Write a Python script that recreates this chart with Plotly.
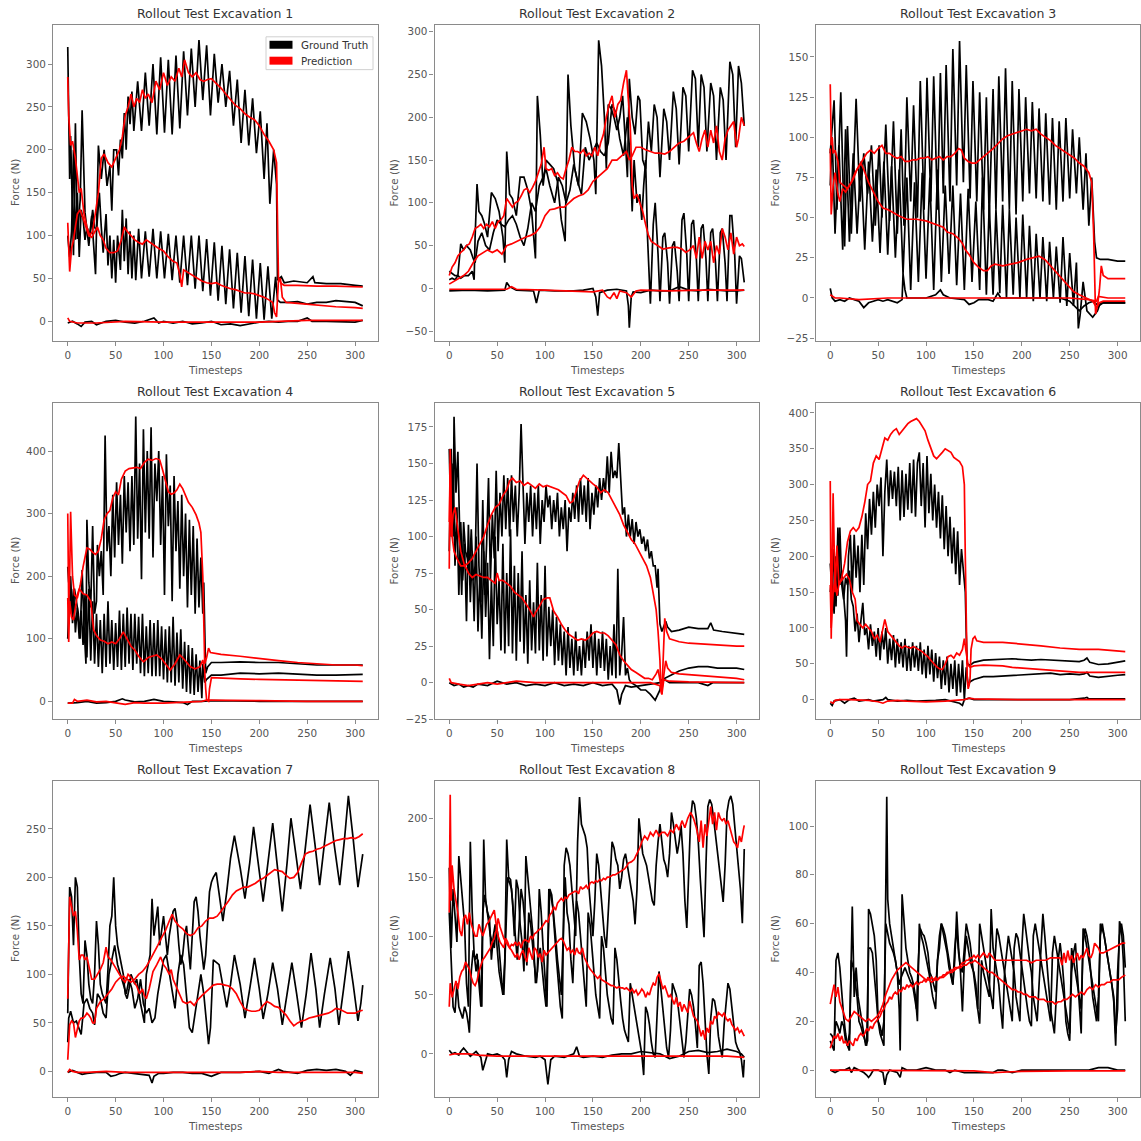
import plotly.graph_objects as go

# ---------------------------------------------------------------------------
# Force rollouts: three force components per excavation, ground truth (black)
# and model prediction (red).  Each series is a list of (timestep, force N).
# ---------------------------------------------------------------------------

TITLES = [f"Rollout Test Excavation {i}" for i in range(1, 10)]
X_RANGE = [-15.4, 323.4]
X_TICKS = [0, 50, 100, 150, 200, 250, 300]
Y_RANGES = [[-23.2, 345.7], [-61.7, 308.0], [-26.9, 170.0],
            [-28.6, 477.0], [-25.0, 191.5], [-27.3, 414.0],
            [-26.6, 299.5], [-36.8, 231.8], [-11.1, 118.5]]
Y_DTICKS = [50, 50, 25, 100, 25, 50, 50, 50, 20]

# ---- Excavation 1 ----
gt1_a = [(0,320),(2,166),(3,216),(6,77),(8,231),(10,96),(13,142),(15,246),(18,127),(22,88),(25,123),(29,55),(32,205),(35,166),(38,200),(41,158),(44,181),(46,129),(48,200),(51,200),(53,170),(55,212),(57,190),(59,243),(61,200),(63,262),(65,230),(67,268),(69,222),(73,280),(77,222),(81,290),(85,228),(89,300),(93,218),(97,308),(101,220),(105,305),(109,218),(113,310),(117,225),(121,315),(125,240),(129,318),(133,250),(137,328),(141,258),(145,322),(149,240),(153,312),(157,255),(161,300),(165,250),(169,292),(173,228),(177,282),(181,208),(185,270),(189,205),(193,260),(197,196),(201,245),(205,166),(208,231),(211,137),(215,200),(218,160),(219,48),(223,52),(226,45),(236,47),(244,46),(250,45),(256,52),(258,45),(270,44),(285,44),(300,42),(308,41)]
gt1_b = [(0,100),(2,75),(4,105),(6,200),(8,95),(10,150),(12,75),(14,130),(16,120),(18,95),(20,110),(23,100),(26,130),(28,110),(30,105),(33,150),(35,110),(37,80),(40,125),(42,65),(44,100),(46,50),(48,95),(50,45),(52,100),(55,60),(57,130),(59,70),(61,120),(63,55),(65,105),(67,50),(69,100),(71,48),(74,108),(77,50),(81,105),(85,52),(89,108),(93,50),(97,105),(101,50),(105,102),(109,48),(113,100),(117,45),(121,100),(125,42),(129,100),(133,38),(137,100),(141,35),(145,96),(149,30),(153,92),(157,24),(161,88),(165,20),(169,84),(173,15),(177,80),(181,10),(185,76),(189,6),(193,72),(197,3),(201,68),(205,2),(209,64),(213,3),(217,52),(219,25),(222,22),(230,22),(240,23),(250,20),(260,22),(270,22),(280,24),(290,23),(300,22),(308,18)]
gt1_c = [(0,-2),(5,0),(10,-3),(14,-6),(18,-1),(25,0),(30,-4),(35,-2),(40,0),(50,1),(60,-1),(70,-2),(80,0),(90,4),(95,-2),(100,0),(110,-2),(120,0),(130,-3),(140,-2),(150,0),(160,-4),(170,-3),(180,-5),(190,-3),(200,-1),(210,0),(220,-1),(230,0),(240,0),(250,4),(255,0),(270,0),(290,-1),(300,-1),(308,1)]
pr1_a = [(0,285),(1,240),(3,205),(5,210),(8,190),(10,170),(12,150),(14,155),(17,125),(20,110),(23,100),(26,105),(29,130),(32,150),(35,190),(38,195),(42,185),(46,180),(50,190),(54,200),(57,215),(60,240),(63,250),(66,265),(69,250),(72,260),(75,255),(78,270),(81,260),(84,265),(88,255),(92,280),(96,270),(100,290),(104,275),(108,285),(112,280),(116,295),(119,285),(122,305),(126,290),(130,285),(134,290),(138,282),(142,280),(146,282),(150,283),(155,278),(160,272),(165,265),(170,258),(175,252),(180,248),(185,242),(190,238),(195,235),(200,228),(205,218),(210,210),(215,200),(218,185),(219,120),(220,50),(223,44),(226,42),(240,42),(260,41),(280,41),(300,40),(308,40)]
pr1_b = [(0,115),(1,75),(2,58),(4,85),(6,95),(8,110),(10,125),(13,130),(16,120),(19,110),(22,100),(25,98),(28,105),(31,110),(34,100),(37,95),(40,85),(44,80),(48,80),(52,82),(56,95),(59,110),(62,105),(66,100),(70,95),(74,92),(78,90),(82,95),(86,92),(90,88),(95,85),(100,82),(105,75),(110,70),(114,68),(117,55),(119,40),(121,60),(124,58),(128,55),(132,52),(136,50),(140,47),(145,45),(150,44),(155,45),(160,42),(165,40),(170,38),(175,37),(180,35),(185,33),(190,33),(195,32),(200,30),(205,28),(210,25),(214,22),(216,10),(218,5),(220,48),(222,50),(224,28),(228,22),(240,21),(260,19),(280,17),(300,16),(308,15)]
pr1_c = [(0,4),(2,0),(10,-2),(30,-2),(60,0),(100,-1),(150,-1),(200,-1),(220,0),(250,1),(300,1),(308,1)]

# ---- Excavation 2 ----
gt2_a = [(0,20),(3,18),(6,15),(9,15),(12,12),(16,15),(20,15),(24,20),(26,10),(27,60),(29,122),(31,90),(34,85),(37,75),(40,60),(44,112),(48,105),(52,90),(56,60),(58,30),(60,160),(63,110),(66,105),(70,85),(74,130),(78,130),(82,115),(86,90),(90,35),(92,225),(95,180),(98,120),(101,150),(105,145),(109,140),(113,125),(117,80),(121,55),(124,250),(127,190),(131,140),(135,120),(139,205),(143,195),(147,175),(151,150),(153,110),(156,290),(159,260),(162,200),(164,140),(166,215),(169,210),(172,200),(175,185),(178,200),(181,225),(184,170),(186,130),(188,245),(191,200),(194,180),(197,225),(199,220),(202,150),(205,140),(208,195),(211,160),(214,215),(217,200),(220,130),(224,210),(227,195),(230,150),(234,230),(237,210),(240,145),(244,235),(247,225),(250,160),(254,255),(257,245),(260,165),(263,250),(266,235),(269,160),(273,240),(276,225),(279,150),(283,235),(286,220),(289,150),(293,265),(296,250),(299,165),(302,260),(305,240),(308,190)]
gt2_b = [(0,10),(3,12),(6,10),(9,15),(12,52),(15,45),(18,50),(22,45),(25,35),(27,30),(30,55),(34,65),(38,50),(42,45),(46,65),(50,80),(54,75),(58,72),(62,80),(66,85),(70,75),(74,60),(78,50),(82,70),(86,100),(90,90),(94,120),(98,130),(101,140),(105,120),(110,100),(114,130),(118,120),(122,100),(126,115),(130,145),(134,125),(138,110),(142,165),(146,150),(150,160),(154,170),(158,160),(162,155),(166,170),(170,215),(174,205),(178,175),(182,155),(186,200),(189,150),(191,90),(193,150),(196,100),(199,110),(201,80),(203,120),(205,150),(207,60),(210,-18),(213,75),(215,100),(218,40),(220,-15),(223,60),(225,65),(228,30),(230,-18),(233,50),(235,55),(238,20),(240,-15),(243,80),(245,88),(248,40),(250,-15),(253,75),(255,80),(258,35),(260,-15),(263,70),(265,75),(268,35),(270,-15),(273,65),(275,70),(278,30),(280,-15),(283,65),(285,70),(288,30),(290,-15),(293,85),(295,85),(298,40),(300,-18),(303,38),(305,35),(308,7)]
gt2_c = [(0,-3),(20,-2),(40,-3),(58,-2),(60,7),(63,2),(70,-2),(88,-3),(91,-17),(94,-2),(110,-3),(130,-3),(140,-2),(150,0),(153,-10),(155,-32),(157,-5),(165,-2),(175,-1),(185,-3),(187,-20),(188,-46),(190,-10),(192,-4),(200,-5),(210,-2),(220,-3),(230,-3),(240,2),(250,-2),(260,-3),(270,-1),(280,-2),(290,-3),(300,-3),(308,-2)]
pr2_a = [(0,15),(3,25),(6,30),(9,38),(12,42),(15,45),(18,50),(21,52),(24,60),(27,70),(30,72),(33,75),(36,70),(39,75),(42,72),(45,78),(48,70),(51,78),(54,80),(57,85),(60,105),(63,100),(66,95),(69,100),(72,102),(75,108),(78,115),(81,117),(84,112),(87,118),(90,125),(93,135),(96,145),(99,165),(101,140),(104,138),(107,140),(110,132),(113,135),(116,130),(119,128),(122,140),(125,150),(128,165),(131,160),(134,160),(137,158),(140,162),(143,155),(146,158),(149,155),(152,165),(155,155),(158,170),(161,180),(164,200),(167,215),(170,225),(173,200),(176,215),(179,220),(182,240),(185,255),(187,220),(189,190),(191,120),(193,105),(196,110),(199,100),(202,90),(205,75),(208,62),(211,55),(215,52),(219,48),(223,46),(228,47),(233,48),(238,48),(243,46),(247,42),(251,45),(255,50),(258,35),(261,60),(264,35),(267,55),(270,45),(273,55),(276,30),(279,50),(282,40),(285,70),(288,60),(291,45),(294,65),(297,40),(300,60),(303,50),(306,52),(308,49)]
pr2_b = [(0,5),(5,8),(10,12),(15,15),(20,20),(25,30),(30,38),(35,42),(40,45),(45,42),(50,45),(55,40),(60,50),(65,52),(70,55),(75,57),(80,60),(85,62),(90,65),(95,72),(100,85),(105,92),(110,93),(115,95),(120,95),(125,100),(130,105),(135,108),(140,110),(145,115),(150,125),(155,130),(160,135),(165,140),(170,150),(175,150),(180,155),(185,160),(188,150),(191,155),(195,165),(200,165),(205,162),(210,160),(215,158),(220,158),(225,157),(230,160),(235,165),(240,170),(245,172),(250,177),(255,182),(258,170),(261,160),(264,175),(267,185),(270,165),(273,185),(276,170),(279,190),(282,160),(285,150),(288,175),(291,185),(294,190),(297,195),(300,165),(302,175),(305,200),(308,190)]
pr2_c = [(0,-1),(30,-1),(60,-1),(65,2),(70,-1),(100,-2),(130,-3),(150,-4),(160,-2),(165,-10),(168,-12),(172,-5),(175,-12),(178,-3),(185,-5),(190,-10),(195,-3),(200,-2),(230,-3),(260,-2),(300,-2),(308,-2)]

# ---- Excavation 3 ----
gt3_a = [(0,90),(4,123),(7,55),(11,128),(15,32),(18,107),(22,40),(27,124),(31,60),(35,90),(39,65),(43,95),(47,45),(51,95),(54,50),(58,108),(62,48),(66,110),(70,40),(74,105),(77,45),(80,125),(84,60),(87,120),(91,50),(94,135),(98,55),(101,137),(105,60),(108,138),(112,55),(115,140),(118,65),(121,145),(125,60),(128,155),(132,70),(135,160),(139,72),(142,145),(146,62),(149,135),(153,60),(156,128),(160,55),(163,125),(166,50),(170,130),(173,55),(176,138),(180,60),(183,143),(187,55),(190,135),(194,52),(197,130),(201,60),(204,125),(208,65),(211,122),(215,62),(218,118),(222,60),(225,115),(229,58),(232,112),(236,55),(239,110),(243,60),(246,112),(250,62),(253,105),(257,65),(260,100),(264,55),(267,90),(270,45),(273,75),(276,35),(278,25),(282,24),(290,24),(300,23),(308,23)]
gt3_b = [(0,70),(2,100),(5,40),(9,95),(13,30),(16,105),(20,35),(24,90),(28,40),(32,85),(36,30),(40,85),(44,35),(48,80),(52,28),(56,85),(60,27),(64,82),(68,25),(72,80),(76,15),(80,75),(84,5),(88,72),(92,10),(96,78),(100,12),(104,75),(108,5),(112,80),(116,10),(120,70),(124,15),(128,70),(132,8),(136,65),(140,5),(144,68),(148,10),(152,60),(156,5),(159,75),(163,2),(166,58),(170,2),(173,55),(177,3),(180,58),(184,0),(187,55),(191,2),(194,50),(198,0),(201,52),(205,0),(208,45),(212,-2),(215,40),(219,0),(222,38),(226,-2),(229,35),(233,0),(236,32),(240,-3),(243,38),(247,-5),(250,28),(254,-5),(257,22),(259,-19),(261,-10),(264,10),(268,-8),(274,-12),(279,-8),(282,-3),(290,-3),(300,-3),(308,-3)]
gt3_c = [(0,6),(2,0),(5,-2),(10,-1),(15,-2),(20,0),(25,-1),(30,-2),(35,-6),(40,-3),(45,-2),(50,-1),(55,-2),(60,-1),(70,-3),(75,-1),(76,15),(78,5),(80,0),(100,0),(110,2),(115,5),(118,2),(125,0),(140,-1),(145,-4),(150,-3),(155,-1),(165,-1),(170,-2),(175,3),(178,0),(190,0),(200,0),(220,0),(240,0),(250,-2),(255,-5),(260,-8),(265,-5),(270,-3),(275,-2),(280,-5),(285,-3),(308,-3)]
pr3_a = [(0,133),(1,95),(2,100),(3,90),(5,92),(8,85),(10,72),(14,70),(18,68),(22,72),(26,78),(30,82),(34,86),(38,90),(42,92),(46,90),(50,93),(54,95),(58,90),(62,90),(66,88),(70,87),(74,88),(78,85),(82,85),(86,86),(90,86),(94,87),(98,87),(102,88),(106,86),(110,87),(114,88),(118,86),(122,88),(126,88),(130,90),(134,93),(137,92),(140,87),(144,85),(148,84),(152,84),(156,86),(160,88),(165,90),(170,93),(175,96),(180,99),(185,101),(190,102),(195,103),(200,104),(205,105),(210,104),(215,105),(220,102),(225,100),(230,98),(235,95),(240,93),(245,91),(250,89),(255,87),(260,84),(265,82),(270,78),(273,72),(275,40),(277,-10),(279,-5),(281,5),(283,20),(285,14),(290,12),(300,12),(308,12)]
pr3_b = [(0,93),(1,52),(3,70),(5,78),(8,65),(10,60),(13,68),(16,66),(20,70),(24,74),(28,80),(32,84),(35,80),(40,72),(45,66),(50,60),(55,56),(60,55),(66,53),(72,51),(80,49),(90,49),(100,48),(110,46),(118,44),(122,41),(128,40),(134,37),(138,34),(141,30),(145,27),(150,22),(155,19),(160,17),(164,17),(168,20),(172,21),(180,20),(188,21),(196,22),(205,24),(212,25),(218,26),(224,24),(230,20),(236,16),(242,12),(248,8),(254,4),(260,2),(268,0),(274,-2),(278,-6),(281,-3),(285,-2),(300,-2),(308,-2)]
pr3_c = [(0,2),(5,0),(10,0),(30,-1),(60,0),(100,0),(150,0),(200,0),(250,0),(270,-1),(278,-2),(280,1),(290,0),(308,0)]

# ---- Excavation 4 ----
gt4_a = [(0,215),(1,190),(3,200),(5,125),(7,180),(9,160),(11,140),(13,100),(15,210),(17,120),(19,60),(20,290),(22,190),(24,150),(26,280),(28,140),(30,160),(31,250),(33,200),(35,240),(37,170),(39,425),(41,240),(43,280),(45,200),(47,330),(49,230),(51,350),(53,250),(55,330),(57,220),(59,360),(61,270),(63,350),(65,240),(67,360),(69,250),(71,455),(73,260),(75,380),(77,195),(79,435),(81,270),(83,400),(85,260),(87,438),(89,230),(91,380),(93,320),(95,400),(97,250),(99,360),(101,170),(103,395),(105,280),(107,345),(109,160),(111,360),(113,240),(115,320),(117,180),(119,330),(121,200),(123,300),(125,150),(127,290),(129,170),(131,280),(133,140),(135,260),(137,150),(139,230),(141,140),(142,190),(143,90),(144,45),(146,55),(150,62),(160,62),(180,63),(200,62),(220,62),(240,60),(260,58),(280,58),(300,58),(308,58)]
gt4_b = [(0,100),(2,200),(4,140),(6,180),(8,110),(10,150),(12,100),(14,145),(16,90),(18,170),(20,70),(22,180),(24,65),(26,160),(28,60),(30,140),(32,55),(34,130),(36,45),(38,140),(40,55),(42,160),(44,60),(46,130),(48,50),(50,125),(52,55),(54,145),(56,50),(58,140),(60,55),(62,150),(64,60),(66,140),(68,50),(70,140),(72,60),(74,135),(76,45),(78,140),(80,40),(82,120),(84,45),(86,130),(88,40),(90,125),(92,40),(94,130),(96,40),(98,120),(100,35),(102,115),(104,30),(106,120),(108,30),(110,135),(112,25),(114,110),(116,30),(118,115),(120,20),(122,95),(124,15),(126,90),(128,12),(130,85),(132,10),(134,75),(136,15),(138,65),(140,5),(141,60),(143,30),(145,35),(150,42),(160,42),(180,45),(200,44),(220,45),(240,43),(260,42),(280,42),(300,43),(308,43)]
gt4_c = [(0,-3),(5,-3),(10,-2),(20,0),(30,-3),(40,-2),(50,0),(57,4),(60,2),(70,-1),(80,0),(90,3),(100,0),(110,-1),(120,-2),(125,-5),(130,0),(140,0),(150,1),(200,0),(250,0),(300,0),(308,0)]
pr4_a = [(0,300),(1,150),(2,200),(3,303),(4,250),(5,200),(7,170),(10,165),(13,185),(16,215),(20,245),(23,243),(26,238),(29,235),(32,240),(35,260),(38,290),(41,300),(44,305),(47,325),(50,335),(53,330),(56,355),(60,368),(64,372),(68,373),(72,374),(76,372),(80,382),(84,387),(88,385),(92,388),(96,386),(99,370),(102,350),(105,335),(108,331),(111,333),(114,338),(117,347),(120,340),(123,328),(126,318),(130,310),(134,298),(137,285),(139,270),(141,200),(142,120),(143,60),(145,70),(147,85),(149,78),(155,76),(160,75),(180,72),(200,68),(220,65),(240,62),(260,60),(280,58),(300,58),(308,57)]
pr4_b = [(0,165),(1,95),(2,160),(4,135),(6,130),(8,150),(10,170),(12,180),(16,172),(20,170),(24,160),(27,114),(30,105),(34,98),(38,96),(42,92),(46,95),(50,92),(54,100),(58,111),(62,100),(66,88),(70,82),(74,72),(79,63),(84,70),(88,72),(93,74),(98,68),(103,58),(107,50),(112,60),(117,74),(121,68),(125,60),(128,55),(133,52),(138,55),(141,66),(143,50),(144,20),(145,2),(147,0),(148,20),(150,38),(160,37),(180,36),(200,35),(240,34),(280,33),(308,32)]
pr4_c = [(0,-3),(5,-3),(7,3),(10,0),(20,2),(30,-1),(40,0),(50,-2),(60,-5),(70,-2),(80,-3),(100,-3),(120,-1),(140,0),(145,2),(150,2),(200,1),(250,0),(308,0)]

# ---- Excavation 5 ----
gt5_a = [(0,90),(2,160),(4,100),(5,182),(7,130),(9,158),(11,100),(13,60),(15,110),(17,90),(19,85),(21,75),(23,105),(25,70),(27,80),(29,150),(31,80),(33,55),(35,125),(37,60),(39,95),(41,140),(43,70),(45,115),(47,85),(49,145),(51,90),(53,130),(55,100),(57,142),(59,105),(61,140),(63,100),(65,142),(67,110),(69,135),(71,100),(73,130),(75,177),(77,140),(79,95),(81,130),(83,110),(85,135),(87,100),(89,130),(91,105),(93,135),(95,95),(97,125),(99,110),(101,135),(103,120),(105,128),(107,105),(109,125),(111,110),(113,130),(115,100),(117,120),(119,105),(121,125),(123,90),(125,120),(127,110),(129,130),(131,112),(133,135),(135,110),(137,140),(139,115),(141,135),(143,110),(145,140),(147,105),(149,130),(151,115),(153,135),(155,120),(157,140),(159,125),(161,140),(163,130),(165,155),(167,130),(169,158),(171,140),(173,145),(175,140),(177,164),(179,135),(181,115),(183,120),(185,100),(187,115),(189,100),(191,112),(193,95),(195,110),(197,100),(199,105),(201,95),(203,100),(205,90),(207,98),(209,85),(211,90),(213,80),(215,80),(217,65),(218,78),(219,60),(220,40),(222,35),(224,38),(226,42),(228,38),(232,35),(240,36),(250,38),(260,37),(270,37),(273,41),(276,36),(285,35),(300,34),(308,33)]
gt5_b = [(0,160),(2,100),(4,150),(6,80),(8,120),(10,60),(12,110),(14,70),(16,95),(18,42),(20,108),(22,55),(24,90),(26,42),(28,100),(30,35),(32,75),(34,30),(36,90),(38,45),(40,82),(42,16),(44,70),(46,25),(48,100),(50,40),(52,70),(54,22),(56,95),(58,20),(60,75),(62,25),(64,105),(66,20),(68,80),(70,15),(72,75),(74,28),(76,90),(78,20),(80,60),(82,13),(84,70),(86,22),(88,55),(90,20),(92,82),(94,22),(96,60),(98,15),(100,80),(102,18),(104,52),(106,25),(108,50),(110,12),(112,45),(114,15),(116,40),(118,12),(120,35),(122,5),(124,38),(126,10),(128,30),(130,5),(132,35),(134,8),(136,25),(138,5),(140,30),(142,10),(144,35),(146,15),(148,40),(150,10),(152,35),(154,5),(156,30),(158,10),(160,35),(162,8),(164,30),(166,2),(168,25),(170,5),(172,40),(174,3),(176,78),(178,5),(180,20),(182,45),(184,5),(186,10),(188,2),(190,0),(195,-2),(200,-5),(205,-5),(210,-8),(215,-12),(218,-8),(220,-5),(222,2),(225,3),(230,5),(240,8),(250,10),(260,11),(270,11),(280,10),(290,10),(300,10),(308,9)]
gt5_c = [(0,0),(5,-2),(10,-1),(15,-3),(20,-2),(25,-3),(30,-1),(40,-2),(50,1),(60,-1),(70,0),(80,-2),(90,-1),(100,-2),(110,0),(120,-2),(130,-1),(140,-2),(150,0),(160,-2),(170,-1),(175,-5),(178,-15),(180,-8),(184,-2),(190,-3),(200,-2),(210,-1),(220,0),(225,2),(230,0),(240,0),(250,0),(260,0),(270,-2),(275,0),(290,0),(308,0)]
pr5_a = [(0,78),(1,160),(2,120),(3,100),(5,90),(8,85),(12,80),(16,80),(20,82),(24,85),(28,90),(32,95),(36,100),(40,108),(44,115),(48,120),(52,122),(56,128),(60,132),(63,138),(66,140),(70,137),(74,138),(78,135),(82,137),(86,135),(90,133),(94,136),(98,134),(102,135),(106,134),(110,133),(114,132),(118,130),(122,128),(126,123),(129,124),(132,130),(136,138),(140,142),(143,140),(146,138),(150,136),(154,134),(158,130),(162,132),(166,130),(170,125),(174,120),(178,115),(182,108),(186,103),(190,98),(194,95),(198,90),(202,85),(206,80),(210,72),(213,62),(216,50),(218,35),(220,15),(221,-5),(222,-8),(223,10),(225,44),(227,35),(230,30),(235,29),(240,28),(250,27),(260,26.5),(270,26),(280,26),(290,25.5),(300,25),(308,25)]
pr5_b = [(0,110),(1,150),(2,100),(4,115),(6,120),(8,110),(10,100),(12,90),(14,85),(16,80),(18,78),(20,75),(24,72),(28,74),(32,73),(36,72),(40,72),(44,70),(48,68),(50,75),(52,70),(56,70),(60,68),(64,66),(68,62),(72,60),(76,58),(80,54),(84,50),(88,45),(90,48),(94,52),(98,57),(102,58),(105,58),(109,49),(113,45),(117,40),(121,36),(125,33),(130,31),(134,29),(138,30),(142,29),(146,31),(150,34),(154,35),(158,34),(162,34),(166,32),(170,29),(174,26),(178,19),(182,15),(186,12),(190,9),(195,7),(200,5),(204,3),(208,3),(212,2),(216,6),(218,9),(220,2),(222,-5),(224,5),(226,15),(228,10),(232,7),(240,6),(260,5),(280,4),(300,3),(308,2)]
pr5_c = [(0,3),(2,0),(10,-1),(20,-2),(30,-1),(40,0),(50,-1),(70,1),(90,0),(110,0),(130,0),(150,0),(170,0),(190,0),(210,0),(220,-2),(222,-8),(224,2),(230,1),(250,0.5),(308,0)]

# ---- Excavation 6 ----
gt6_a = [(0,190),(2,150),(4,210),(6,130),(8,240),(10,160),(12,180),(14,140),(16,110),(17,60),(19,200),(21,230),(23,150),(25,230),(27,170),(29,215),(31,150),(33,230),(35,160),(37,260),(39,210),(41,280),(43,230),(45,290),(47,240),(49,300),(51,270),(53,310),(55,200),(57,290),(59,335),(61,270),(63,320),(65,280),(67,318),(69,270),(71,325),(73,250),(75,320),(77,255),(79,315),(81,265),(83,330),(85,260),(87,335),(89,255),(91,330),(93,345),(95,270),(97,330),(99,240),(101,340),(103,260),(105,315),(107,250),(109,300),(111,240),(113,290),(115,225),(117,285),(119,210),(121,270),(123,200),(125,255),(127,190),(129,240),(131,175),(133,235),(135,160),(137,210),(139,180),(141,150),(142,90),(143,50),(146,48),(150,52),(160,55),(170,56),(180,56),(190,57),(200,56),(210,55),(220,56),(230,55),(240,55),(250,54),(260,53),(265,55),(268,58),(271,52),(280,49),(290,50),(300,52),(308,54)]
gt6_b = [(0,150),(2,175),(4,120),(6,200),(8,145),(10,240),(12,160),(14,140),(16,170),(18,160),(20,180),(22,140),(24,130),(26,95),(28,120),(30,80),(32,110),(34,135),(36,90),(38,100),(40,70),(42,105),(44,75),(46,95),(48,60),(50,100),(52,55),(54,95),(56,70),(58,100),(60,50),(62,85),(64,55),(66,90),(68,45),(70,85),(72,50),(74,80),(76,45),(78,85),(80,40),(82,75),(84,40),(86,80),(88,45),(90,75),(92,40),(94,80),(96,35),(98,70),(100,30),(102,75),(104,35),(106,70),(108,25),(110,65),(112,30),(114,60),(116,15),(118,55),(120,20),(122,60),(124,10),(126,50),(128,15),(130,55),(132,5),(134,50),(136,10),(138,55),(140,0),(142,45),(144,20),(146,25),(150,28),(160,32),(170,32),(180,33),(190,34),(200,34),(210,35),(220,36),(230,37),(240,35),(250,36),(260,35),(265,36),(268,38),(271,33),(280,31),(290,32),(300,34),(308,35)]
gt6_c = [(0,-5),(2,-8),(4,-2),(10,0),(15,-5),(20,0),(25,2),(28,0),(30,-2),(40,0),(45,-2),(50,-1),(55,0),(58,3),(60,0),(70,-2),(80,-1),(90,-2),(100,-2),(110,-1),(120,0),(130,-3),(135,-5),(138,-8),(140,0),(145,2),(150,0),(200,0),(250,0),(265,2),(268,3),(270,1),(300,1),(308,1)]
pr6_a = [(0,305),(1,85),(3,288),(5,150),(7,215),(9,160),(12,170),(15,190),(18,220),(21,235),(24,240),(27,235),(30,240),(33,255),(36,275),(39,300),(42,305),(45,330),(48,340),(51,335),(54,350),(57,365),(60,362),(63,370),(66,375),(69,378),(72,370),(75,375),(78,380),(81,385),(84,388),(87,390),(90,392),(93,388),(96,382),(99,375),(102,362),(105,350),(108,340),(111,336),(114,340),(117,345),(120,350),(123,348),(126,345),(129,338),(132,335),(135,332),(138,325),(140,300),(141,200),(142,100),(143,30),(144,15),(145,20),(146,30),(147,70),(149,85),(151,88),(153,82),(160,80),(180,80),(200,78),(220,75),(240,72),(260,70),(280,70),(300,68),(308,67)]
pr6_b = [(0,160),(1,100),(3,150),(5,170),(7,145),(9,160),(11,165),(14,170),(17,175),(20,168),(23,150),(26,140),(28,110),(31,105),(34,100),(37,105),(40,100),(43,95),(46,85),(49,90),(52,80),(55,100),(57,112),(60,95),(63,90),(66,85),(69,80),(72,75),(75,72),(78,75),(81,73),(84,72),(87,74),(90,72),(93,70),(96,67),(99,63),(102,60),(105,55),(108,50),(111,46),(114,43),(117,42),(120,50),(123,60),(126,62),(129,58),(132,65),(135,62),(138,70),(140,85),(142,65),(144,48),(146,45),(150,47),(160,48),(170,48),(180,47),(190,45),(200,44),(210,42),(220,41),(230,40),(240,39),(260,38),(280,38),(300,38),(308,38)]
pr6_c = [(0,-3),(3,-5),(5,-1),(10,0),(20,0),(30,0),(40,-1),(50,-3),(55,-5),(60,-2),(70,-1),(80,-2),(100,-3),(120,-2),(140,0),(145,2),(150,1),(200,0),(250,0),(300,0),(308,0)]

# ---- Excavation 7 ----
gt7_a = [(0,60),(2,190),(4,180),(6,130),(8,200),(10,190),(12,120),(14,80),(16,70),(18,135),(20,120),(22,90),(24,75),(26,70),(28,100),(30,155),(32,130),(34,90),(36,80),(38,75),(40,70),(42,105),(44,150),(46,160),(48,200),(50,150),(52,130),(54,120),(56,110),(58,100),(60,80),(62,75),(64,85),(66,100),(68,95),(70,90),(72,95),(74,80),(76,70),(78,60),(80,50),(82,100),(84,110),(86,120),(88,178),(90,140),(92,155),(94,170),(96,130),(98,145),(100,160),(102,140),(104,120),(106,140),(108,155),(110,165),(112,168),(114,155),(116,130),(118,110),(120,120),(122,140),(124,150),(126,130),(128,105),(130,140),(132,175),(134,180),(136,165),(138,140),(140,120),(142,105),(144,120),(146,150),(148,185),(150,195),(152,200),(155,205),(158,185),(162,155),(166,185),(170,220),(174,243),(180,210),(185,178),(190,215),(194,252),(199,215),(204,175),(209,215),(214,256),(219,210),(224,165),(229,215),(233,261),(238,225),(243,188),(248,230),(253,275),(258,235),(263,192),(268,235),(273,277),(278,235),(284,192),(289,240),(293,284),(298,240),(303,190),(308,224)]
gt7_b = [(0,30),(1,55),(3,62),(6,50),(9,52),(12,42),(14,38),(17,70),(20,75),(23,65),(26,60),(28,48),(31,80),(34,75),(37,60),(40,55),(43,100),(46,115),(49,130),(52,110),(55,100),(58,90),(61,80),(64,95),(67,85),(70,65),(73,75),(76,95),(79,70),(82,60),(85,65),(88,50),(91,55),(94,80),(97,100),(100,115),(103,120),(106,100),(109,80),(112,65),(115,100),(118,120),(121,110),(124,80),(127,45),(130,40),(133,60),(136,85),(139,100),(142,80),(145,45),(147,28),(149,45),(152,115),(158,110),(163,80),(166,66),(170,90),(174,120),(180,90),(185,55),(190,85),(195,117),(200,85),(204,54),(209,80),(214,112),(219,85),(224,48),(229,80),(234,112),(239,80),(244,45),(249,80),(254,122),(259,85),(263,45),(268,80),(274,117),(279,85),(283,48),(288,85),(293,124),(298,90),(303,52),(306,70),(308,89)]
gt7_c = [(0,-1),(5,1),(10,-1),(15,-3),(20,-2),(30,-1),(40,-1),(45,-5),(50,-4),(55,-2),(60,-1),(70,-2),(80,-3),(85,-4),(88,-12),(90,-5),(95,-2),(100,-2),(110,-1),(120,-1),(130,-2),(140,-2),(150,-5),(155,-3),(160,-1),(180,-1),(200,0),(210,-2),(220,2),(225,0),(240,-2),(250,1),(260,2),(270,1),(280,2),(290,0),(295,-4),(300,1),(305,0),(308,-1)]
pr7_a = [(0,12),(1,40),(2,48),(4,52),(6,50),(8,35),(10,45),(12,52),(14,55),(16,55),(18,57),(20,60),(22,58),(24,55),(26,50),(28,50),(30,65),(34,72),(38,75),(42,80),(46,85),(50,92),(54,96),(58,98),(62,95),(66,92),(70,95),(74,100),(78,103),(82,108),(86,115),(90,122),(94,130),(98,138),(102,145),(106,155),(109,162),(112,155),(116,150),(120,147),(124,142),(128,140),(132,142),(136,148),(140,150),(144,155),(148,158),(152,158),(156,160),(160,165),(164,170),(168,176),(172,182),(176,186),(180,188),(184,190),(188,190),(192,192),(196,194),(200,197),(204,199),(208,202),(212,205),(216,208),(220,207),(224,206),(228,202),(232,199),(236,200),(240,205),(244,215),(248,224),(252,226),(256,227),(260,229),(264,230),(268,232),(272,234),(276,236),(280,238),(284,239),(288,240),(292,240),(296,241),(300,240),(304,242),(308,245)]
pr7_b = [(0,75),(2,180),(4,170),(6,160),(8,165),(10,145),(12,115),(14,120),(16,120),(18,115),(20,118),(22,110),(25,95),(28,95),(31,100),(34,105),(37,112),(40,128),(42,118),(45,115),(48,110),(51,105),(54,100),(57,95),(60,92),(63,100),(66,97),(69,92),(72,88),(75,80),(78,85),(80,78),(82,75),(85,85),(89,103),(93,110),(97,118),(100,110),(103,106),(106,100),(108,105),(110,95),(114,86),(117,78),(120,72),(124,70),(128,72),(132,68),(136,74),(140,78),(144,82),(148,85),(152,89),(156,90),(160,90),(164,89),(168,88),(172,85),(176,80),(180,72),(184,65),(188,63),(192,62),(196,62),(200,63),(204,68),(208,72),(212,70),(216,67),(220,66),(224,62),(228,58),(232,52),(236,47),(240,50),(244,52),(248,53),(252,55),(256,56),(260,57),(264,58),(268,59),(272,60),(276,62),(280,65),(284,64),(288,62),(292,60),(296,60),(300,60),(304,62),(308,63)]
pr7_c = [(0,-1),(2,2),(5,0),(10,-1),(20,-1),(40,0),(60,-1),(80,-1),(100,-1),(120,-1),(150,-1),(180,-1),(200,0),(220,-1),(250,-1),(280,-1),(300,-1),(308,-2)]

# ---- Excavation 8 ----
gt8_a = [(0,158),(2,90),(4,140),(6,120),(8,95),(10,168),(12,150),(14,130),(16,110),(18,60),(20,40),(22,180),(24,120),(26,85),(28,70),(30,80),(32,60),(34,40),(36,182),(38,130),(40,120),(42,115),(44,80),(46,100),(48,110),(50,90),(52,70),(54,60),(56,50),(58,80),(60,182),(62,150),(64,148),(66,130),(68,100),(70,148),(72,140),(74,110),(76,95),(78,70),(80,168),(82,150),(84,130),(86,110),(88,95),(90,60),(92,70),(94,140),(96,120),(98,90),(100,60),(102,40),(104,140),(106,135),(108,125),(110,100),(112,80),(114,60),(116,40),(118,30),(120,160),(122,175),(124,170),(126,160),(128,140),(130,120),(132,100),(134,180),(136,218),(138,195),(140,190),(142,185),(144,175),(146,140),(148,120),(150,100),(152,130),(154,170),(156,160),(158,140),(160,125),(162,100),(164,90),(166,120),(168,160),(170,180),(172,175),(174,165),(176,160),(178,140),(180,150),(182,165),(184,170),(186,160),(188,150),(190,140),(192,130),(194,110),(196,140),(198,200),(200,185),(202,170),(204,165),(206,160),(208,150),(210,140),(212,130),(214,126),(216,160),(218,180),(220,195),(222,180),(224,165),(226,160),(228,150),(230,170),(232,205),(234,195),(236,180),(238,170),(240,180),(242,194),(244,170),(246,130),(248,107),(250,160),(252,200),(254,215),(256,212),(258,200),(260,180),(262,150),(264,120),(266,99),(268,160),(270,210),(272,216),(274,212),(276,200),(278,185),(280,175),(282,160),(284,140),(286,129),(288,160),(290,205),(292,215),(294,219),(296,212),(298,195),(300,180),(302,160),(304,140),(306,111),(308,174)]
gt8_b = [(0,120),(2,80),(4,40),(6,35),(8,60),(10,40),(12,35),(14,30),(16,40),(18,35),(20,25),(21,18),(23,70),(25,88),(27,80),(29,85),(31,60),(33,40),(35,120),(37,135),(39,125),(41,110),(43,100),(45,95),(47,90),(49,110),(51,100),(53,80),(55,60),(57,50),(59,110),(61,150),(63,145),(65,140),(67,120),(69,100),(71,80),(73,110),(75,140),(77,130),(79,110),(81,75),(83,120),(85,110),(87,90),(89,75),(91,60),(93,80),(95,90),(97,70),(99,55),(101,40),(103,100),(105,140),(107,135),(109,120),(111,100),(113,80),(115,65),(117,50),(119,100),(121,150),(123,120),(125,110),(127,80),(129,60),(131,105),(133,130),(135,120),(137,100),(139,80),(141,60),(143,40),(145,120),(147,110),(149,90),(151,70),(153,50),(155,40),(157,30),(159,100),(161,90),(163,70),(165,50),(167,40),(169,30),(171,25),(173,90),(175,80),(177,60),(179,45),(181,30),(183,20),(185,15),(187,10),(189,60),(191,50),(193,40),(195,30),(197,20),(199,10),(201,0),(203,-18),(205,40),(207,35),(209,25),(211,10),(213,0),(215,-3),(217,30),(219,70),(221,55),(223,40),(225,20),(227,5),(229,-3),(231,20),(233,60),(235,55),(237,50),(239,40),(241,25),(243,10),(245,-3),(247,10),(249,35),(251,55),(253,50),(255,40),(257,25),(259,5),(261,75),(263,78),(265,60),(267,30),(269,0),(271,-17),(273,30),(275,47),(277,45),(279,35),(281,15),(283,5),(285,-3),(287,25),(289,45),(291,60),(293,55),(295,40),(297,20),(299,10),(301,5),(303,2),(305,-5),(307,-20),(308,-5)]
gt8_c = [(0,3),(3,0),(6,1),(10,-1),(12,2),(15,5),(18,2),(20,0),(22,-2),(25,0),(28,2),(30,0),(33,-3),(35,-14),(37,-8),(40,0),(45,-1),(50,0),(55,-2),(58,-5),(60,-20),(62,-5),(65,2),(70,0),(75,-1),(80,-2),(90,-3),(95,-2),(100,-5),(103,-26),(106,-5),(110,-2),(120,-3),(130,0),(133,6),(136,-2),(140,-3),(150,-2),(160,-3),(170,-1),(180,0),(190,0),(200,2),(210,1),(220,0),(230,-4),(240,-2),(250,2),(260,3),(270,1),(280,2),(290,4),(300,2),(305,0),(308,-3)]
pr8_a = [(0,40),(1,60),(3,48),(5,55),(7,62),(9,55),(11,65),(13,70),(15,72),(17,78),(19,75),(21,72),(23,65),(25,60),(27,58),(29,62),(31,70),(33,76),(35,80),(37,82),(39,85),(41,88),(43,90),(45,95),(47,98),(49,105),(51,115),(53,108),(55,102),(57,98),(59,95),(61,92),(63,90),(65,93),(67,92),(69,95),(71,92),(73,95),(75,90),(77,95),(79,97),(81,96),(83,95),(85,100),(87,98),(89,102),(91,103),(93,105),(95,106),(97,108),(99,110),(101,113),(103,112),(105,118),(107,120),(109,125),(111,122),(113,128),(115,130),(117,132),(119,130),(121,133),(123,132),(125,135),(127,136),(129,137),(131,138),(133,138),(135,136),(137,142),(139,140),(141,141),(143,143),(145,140),(147,145),(149,146),(151,145),(153,147),(155,146),(157,148),(159,147),(161,149),(163,148),(165,150),(167,150),(169,151),(171,152),(173,152),(175,153),(177,154),(179,155),(181,156),(183,157),(185,159),(187,162),(190,163),(193,165),(196,170),(199,175),(201,180),(204,185),(207,182),(210,188),(213,185),(216,190),(219,185),(222,188),(225,188),(228,185),(231,190),(234,188),(237,195),(240,190),(243,198),(246,192),(249,200),(252,205),(255,200),(258,192),(261,180),(263,198),(265,175),(267,195),(269,185),(271,200),(273,210),(275,195),(277,205),(279,190),(281,205),(283,200),(285,198),(287,200),(289,195),(291,198),(293,192),(295,185),(297,180),(299,178),(301,175),(303,185),(305,180),(307,190),(308,194)]
pr8_b = [(0,120),(1,220),(2,130),(3,160),(5,140),(7,130),(9,120),(11,105),(13,100),(15,115),(17,118),(19,110),(21,120),(23,110),(25,105),(27,100),(29,100),(31,110),(33,105),(35,100),(37,105),(39,110),(41,112),(43,115),(45,118),(47,122),(49,110),(51,100),(53,95),(55,92),(57,90),(59,98),(61,95),(63,90),(65,88),(67,85),(69,82),(71,85),(73,80),(75,85),(77,88),(79,82),(81,78),(83,90),(85,85),(87,80),(89,90),(91,88),(93,82),(95,85),(97,78),(99,88),(101,84),(103,86),(105,88),(107,90),(109,92),(111,94),(113,95),(115,97),(117,98),(119,96),(121,92),(123,88),(125,90),(127,86),(129,88),(131,84),(133,90),(135,86),(137,85),(139,90),(141,82),(143,78),(145,75),(147,72),(149,70),(151,68),(153,66),(155,64),(157,66),(159,63),(161,62),(163,61),(165,60),(167,59),(169,58),(171,58),(173,57),(175,56),(177,57),(179,56),(181,56),(183,55),(185,56),(187,54),(189,53),(191,55),(193,52),(195,54),(197,50),(199,52),(201,55),(203,53),(205,48),(207,52),(209,50),(211,56),(213,60),(215,58),(217,65),(219,68),(221,60),(223,55),(225,58),(227,52),(229,48),(231,50),(233,45),(235,42),(237,48),(239,40),(241,44),(243,36),(245,42),(247,38),(249,35),(251,45),(253,38),(255,32),(257,30),(259,28),(261,22),(263,15),(265,20),(267,12),(269,22),(271,18),(273,28),(275,25),(277,32),(279,30),(281,35),(283,33),(285,32),(287,35),(289,30),(291,28),(293,30),(295,25),(297,22),(299,20),(301,22),(303,18),(305,20),(307,16),(308,15)]
pr8_c = [(0,-1),(5,0),(10,0),(20,0),(30,-1),(50,-2),(70,-2),(100,-2),(130,-2),(150,-2),(170,-2),(200,-2),(230,-2),(250,-2),(270,-2),(290,-2),(308,-3)]

# ---- Excavation 9 ----
gt9_a = [(0,12),(2,10),(4,8),(6,45),(8,48),(10,42),(12,30),(14,22),(16,15),(18,10),(20,8),(22,50),(23,67),(25,30),(27,42),(29,30),(31,25),(33,20),(35,15),(37,10),(39,12),(40,66),(42,64),(44,60),(46,55),(48,45),(50,20),(52,15),(54,12),(56,10),(58,75),(59,112),(60,70),(62,60),(64,55),(66,50),(68,45),(70,40),(72,25),(73,8),(75,72),(77,60),(79,50),(81,45),(83,40),(85,38),(87,35),(89,30),(91,20),(93,60),(95,55),(97,52),(99,48),(101,45),(103,40),(105,35),(107,30),(110,25),(112,45),(114,50),(116,60),(118,58),(120,55),(122,50),(124,45),(126,40),(128,35),(130,45),(132,65),(134,50),(136,40),(138,24),(140,45),(142,55),(144,50),(146,45),(148,42),(150,40),(152,35),(154,25),(156,19),(158,45),(160,40),(163,35),(166,30),(168,66),(170,50),(172,45),(174,40),(176,35),(178,25),(180,17),(182,40),(184,48),(186,55),(188,50),(190,45),(192,40),(194,30),(196,25),(198,20),(200,50),(202,64),(204,58),(206,50),(208,45),(210,40),(212,30),(214,25),(216,20),(218,35),(220,50),(222,64),(224,55),(226,45),(228,35),(230,25),(232,20),(234,15),(236,30),(238,45),(240,52),(242,45),(244,35),(246,20),(248,15),(250,12),(252,40),(254,48),(256,52),(258,40),(260,30),(262,15),(264,58),(266,55),(268,50),(270,45),(272,40),(274,35),(276,30),(278,25),(280,20),(282,60),(284,58),(286,55),(288,50),(290,45),(292,40),(294,35),(296,30),(298,15),(300,25),(302,61),(304,58),(306,45),(308,20)]
gt9_b = [(0,15),(2,14),(4,12),(6,20),(8,18),(10,15),(12,20),(14,18),(16,12),(18,10),(20,15),(22,45),(24,42),(26,35),(28,30),(30,20),(32,18),(34,15),(36,12),(38,10),(40,50),(42,50),(44,48),(46,40),(48,30),(50,20),(52,18),(54,14),(56,20),(58,60),(60,55),(62,52),(64,50),(66,48),(68,45),(70,40),(72,35),(74,38),(76,40),(78,42),(80,40),(82,38),(84,36),(86,35),(88,30),(90,25),(92,45),(94,58),(96,56),(98,55),(100,52),(102,48),(104,40),(106,38),(108,35),(110,32),(112,45),(114,55),(116,60),(118,56),(120,52),(122,48),(124,42),(126,38),(128,35),(130,50),(132,58),(134,48),(136,42),(138,40),(140,50),(142,60),(144,56),(146,52),(148,45),(150,38),(152,30),(154,25),(156,60),(158,55),(160,50),(162,45),(164,40),(166,35),(168,30),(170,25),(172,45),(174,58),(176,55),(178,50),(180,45),(182,40),(184,35),(186,30),(188,25),(190,20),(192,50),(194,56),(196,54),(198,48),(200,42),(202,35),(204,30),(206,25),(208,20),(210,18),(212,55),(214,60),(216,55),(218,50),(220,45),(222,40),(224,35),(226,30),(228,25),(230,20),(232,48),(234,55),(236,50),(238,45),(240,40),(242,35),(244,30),(246,25),(248,20),(250,15),(252,50),(254,45),(256,40),(258,35),(260,30),(262,25),(264,52),(266,58),(268,55),(270,50),(272,40),(274,30),(276,25),(278,20),(280,30),(282,55),(284,60),(286,55),(288,50),(290,45),(292,40),(294,35),(296,28),(298,10),(300,40),(302,55),(304,60),(306,55),(308,42)]
gt9_c = [(0,0),(5,-1),(10,0),(15,0),(20,1),(22,-1),(25,1),(30,0),(35,-1),(38,-2),(40,-3),(42,-2),(45,0),(50,0),(55,-1),(57,-6),(59,-2),(62,0),(70,-1),(73,-3),(75,1),(80,0),(90,0),(100,1),(110,0),(120,0),(125,-1),(130,0),(140,-1),(150,-1),(160,-1),(170,-1),(175,0),(180,0),(190,-1),(200,0),(210,0),(220,0),(230,0),(240,0),(250,0),(260,0),(270,0),(280,1),(290,1),(300,0),(308,0)]
pr9_a = [(0,27),(2,32),(4,35),(6,30),(8,34),(10,28),(13,24),(16,21),(19,20),(22,22),(25,24),(28,23),(31,22),(34,21),(37,20),(40,21),(43,20),(46,21),(49,22),(52,24),(55,27),(58,31),(61,34),(64,37),(67,39),(70,41),(73,42),(76,43),(79,44),(82,43),(85,42),(88,41),(91,40),(94,39),(97,38),(100,37),(103,37),(106,36),(109,37),(112,37),(115,38),(118,38),(121,39),(124,40),(127,40),(130,41),(133,42),(136,42),(139,43),(142,43),(145,44),(148,44),(151,45),(154,44),(157,43),(160,42),(163,41),(166,40),(169,40),(172,39),(175,38),(178,37),(181,36),(184,35),(187,34),(190,33),(193,33),(196,32),(199,32),(202,31),(205,31),(208,30),(211,30),(214,30),(217,29),(220,29),(223,29),(226,28),(229,28),(232,28),(235,27),(238,28),(241,28),(244,29),(247,29),(250,30),(253,31),(256,30),(259,31),(262,32),(265,31),(268,33),(271,34),(274,33),(277,35),(280,34),(283,35),(286,35),(289,36),(292,36),(295,37),(298,37),(301,37),(304,38),(308,39)]
pr9_b = [(0,9),(2,12),(4,14),(6,13),(8,15),(10,12),(12,14),(14,11),(16,12),(18,10),(20,12),(22,11),(24,10),(26,13),(28,12),(30,14),(32,15),(34,14),(36,15),(38,17),(40,16),(42,18),(44,17),(46,19),(48,20),(50,21),(52,22),(54,24),(56,25),(58,27),(60,28),(62,30),(64,29),(66,31),(68,32),(70,31),(72,33),(74,32),(76,34),(78,33),(80,35),(82,34),(84,35),(86,34),(88,35),(90,36),(92,35),(94,36),(96,36),(98,37),(100,36),(102,38),(104,37),(106,38),(108,37),(110,38),(112,37),(114,38),(116,38),(118,39),(120,39),(122,40),(124,40),(126,41),(128,41),(130,42),(132,42),(134,42),(136,43),(138,44),(140,44),(142,45),(144,45),(146,46),(148,46),(150,47),(152,46),(154,47),(156,46),(158,47),(160,48),(162,47),(164,46),(166,48),(168,47),(170,46),(172,45),(176,45),(180,45),(185,45),(190,45),(195,45),(200,45),(205,45),(210,44),(215,45),(220,45),(225,45),(230,46),(235,46),(240,46),(242,43),(244,48),(246,44),(248,49),(250,45),(252,47),(254,44),(256,46),(258,48),(260,45),(262,47),(264,46),(266,48),(268,50),(270,47),(272,46),(274,48),(276,52),(278,51),(280,50),(282,48),(285,48),(290,49),(295,50),(300,51),(305,52),(308,52)]
pr9_c = [(0,0),(20,0),(50,0),(100,0),(150,-0.3),(170,-1),(200,-0.5),(250,-0.3),(308,-0.3)]

GROUND_TRUTH = [
    [gt1_a, gt1_b, gt1_c], [gt2_a, gt2_b, gt2_c], [gt3_a, gt3_b, gt3_c],
    [gt4_a, gt4_b, gt4_c], [gt5_a, gt5_b, gt5_c], [gt6_a, gt6_b, gt6_c],
    [gt7_a, gt7_b, gt7_c], [gt8_a, gt8_b, gt8_c], [gt9_a, gt9_b, gt9_c],
]
PREDICTION = [
    [pr1_a, pr1_b, pr1_c], [pr2_a, pr2_b, pr2_c], [pr3_a, pr3_b, pr3_c],
    [pr4_a, pr4_b, pr4_c], [pr5_a, pr5_b, pr5_c], [pr6_a, pr6_b, pr6_c],
    [pr7_a, pr7_b, pr7_c], [pr8_a, pr8_b, pr8_c], [pr9_a, pr9_b, pr9_c],
]

# ---------------------------------------------------------------------------
# Layout (pixel geometry of a 1141 x 1141 canvas)
# ---------------------------------------------------------------------------
W = H = 1141
COL_LEFT = [53.0, 434.5, 815.5]
COL_W = 324.5
ROW_TOP = [25.0, 405.0, 785.0]
ROW_H = 318.0
YLABEL_X = [15.0, 394.5, 775.5]

FONT = "DejaVu Sans"
GT_COLOR = "#000000"
PR_COLOR = "#ff0000"
FRAME = "#8a8a8a"
TICK_TXT = "#555555"
LINE_W = 1.7


def px(x):
    return x / W


def py(y):
    return 1.0 - y / H


fig = go.Figure()
annotations = []
shapes = []
layout = dict(
    width=W, height=H, autosize=False,
    margin=dict(l=0, r=0, t=0, b=0),
    paper_bgcolor="white", plot_bgcolor="white",
    showlegend=False,
    font=dict(family=FONT, size=10.4, color=TICK_TXT),
)

for i in range(9):
    r, c = divmod(i, 3)
    n = "" if i == 0 else str(i + 1)
    x0, x1 = COL_LEFT[c], COL_LEFT[c] + COL_W
    y0, y1 = ROW_TOP[r], ROW_TOP[r] + ROW_H

    axis_common = dict(
        showline=True, linecolor=FRAME, linewidth=1.1, mirror=True,
        ticks="outside", ticklen=4, tickwidth=1, tickcolor=FRAME,
        showgrid=False, zeroline=False,
        tickfont=dict(family=FONT, size=10.4, color=TICK_TXT),
    )
    layout["xaxis" + n] = dict(
        axis_common, domain=[px(x0), px(x1)], anchor="y" + n,
        range=X_RANGE, tickvals=X_TICKS,
    )
    layout["yaxis" + n] = dict(
        axis_common, domain=[py(y1), py(y0)], anchor="x" + n,
        range=Y_RANGES[i], dtick=Y_DTICKS[i], tick0=0,
    )

    for series in GROUND_TRUTH[i]:
        t, f = zip(*series)
        fig.add_trace(go.Scatter(
            x=list(t), y=list(f), mode="lines", xaxis="x" + n, yaxis="y" + n,
            line=dict(color=GT_COLOR, width=LINE_W), hoverinfo="skip",
        ))
    for series in PREDICTION[i]:
        t, f = zip(*series)
        fig.add_trace(go.Scatter(
            x=list(t), y=list(f), mode="lines", xaxis="x" + n, yaxis="y" + n,
            line=dict(color=PR_COLOR, width=LINE_W), hoverinfo="skip",
        ))

    cx = (x0 + x1) / 2
    annotations.append(dict(
        text=TITLES[i], x=px(cx), y=py(y0 - 11), xref="paper", yref="paper",
        xanchor="center", yanchor="middle", showarrow=False,
        font=dict(family=FONT, size=12.5, color="#333333"),
    ))
    annotations.append(dict(
        text="Timesteps", x=px(cx), y=py(y1 + 28.5), xref="paper", yref="paper",
        xanchor="center", yanchor="middle", showarrow=False,
        font=dict(family=FONT, size=10.4, color=TICK_TXT),
    ))
    annotations.append(dict(
        text="Force (N)", x=px(YLABEL_X[c]), y=py((y0 + y1) / 2),
        xref="paper", yref="paper", xanchor="center", yanchor="middle",
        showarrow=False, textangle=-90,
        font=dict(family=FONT, size=10.4, color=TICK_TXT),
    ))

# Legend box inside the first panel
LEG = [("Ground Truth", GT_COLOR, 45.0), ("Prediction", PR_COLOR, 61.0)]
shapes.append(dict(
    type="rect", xref="paper", yref="paper",
    x0=px(266), x1=px(373), y0=py(70), y1=py(37),
    line=dict(color="#d0d0d0", width=1), fillcolor="rgba(255,255,255,0.85)",
    layer="above",
))
for label, color, yc in LEG:
    shapes.append(dict(
        type="rect", xref="paper", yref="paper",
        x0=px(269.5), x1=px(292.5), y0=py(yc + 4), y1=py(yc - 4),
        line=dict(width=0), fillcolor=color, layer="above",
    ))
    annotations.append(dict(
        text=label, x=px(299), y=py(yc), xref="paper", yref="paper",
        xanchor="left", yanchor="middle", showarrow=False,
        font=dict(family=FONT, size=10.3, color="#333333"),
    ))

layout["annotations"] = annotations
layout["shapes"] = shapes
fig.update_layout(**layout)
fig.write_html("out.html")
